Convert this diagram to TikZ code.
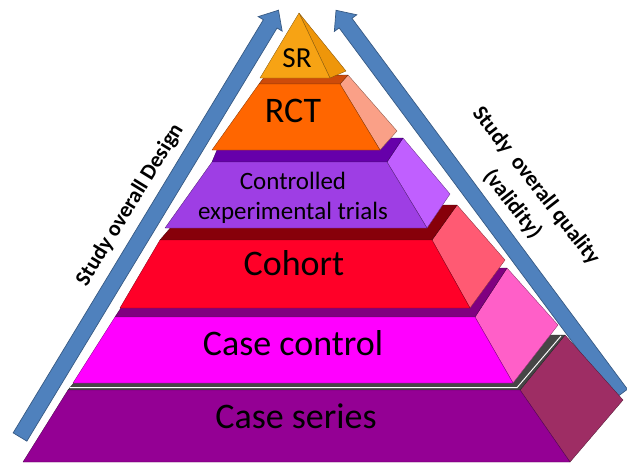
\documentclass[tikz,border=0pt]{standalone}
\usepackage{fontspec}
\setmainfont{Carlito}
\definecolor{arrowblue}{RGB}{79,129,189}
\tikzset{
    face/.style={fill=#1, draw=#1!55!black, line width=0.3pt, line join=round},
    bandarrow/.style={fill=arrowblue, draw=arrowblue!70!black, line width=0.6pt, line join=miter},
    lvlname/.style={font=\fontsize{30.7}{36}\selectfont, text=black, inner sep=0pt},
    axislbl/.style={font=\fontsize{18.8}{25.6}\selectfont\bfseries, text=black, align=center, inner sep=0pt}
}

\begin{document}
\begin{tikzpicture}[x=0.03cm, y=-0.03cm]
            \definecolor{srfront}{RGB}{247,163,20}
            \definecolor{srside}{RGB}{238,150,10}
            \definecolor{rctfront}{RGB}{255,102,0}
            \definecolor{rctband}{RGB}{205,75,10}
            \definecolor{rctside}{RGB}{250,160,135}
            \definecolor{cetfront}{RGB}{158,62,228}
            \definecolor{cetband}{RGB}{102,0,170}
            \definecolor{cetside}{RGB}{192,95,255}
            \definecolor{cohfront}{RGB}{255,0,40}
            \definecolor{cohband}{RGB}{135,0,10}
            \definecolor{cohside}{RGB}{255,90,115}
            \definecolor{ccfront}{RGB}{255,0,255}
            \definecolor{ccband}{RGB}{128,0,128}
            \definecolor{ccside}{RGB}{255,95,200}
            \definecolor{csfront}{RGB}{148,0,148}
            \definecolor{csband}{RGB}{70,70,70}
            \definecolor{csside}{RGB}{158,45,100}
            \useasboundingbox (0,0) rectangle (627,462);
            % the two block arrows along the flanks
            \begin{scope}[shift={(20,437)}, rotate=58.8]
                \filldraw[bandarrow] (0,-8) -- (483,-8) -- (483,-14) -- (499,0) -- (483,14) -- (483,8) -- (0,8) -- cycle;
            \end{scope}
            \begin{scope}[shift={(621,394)}, rotate=126.6]
                \filldraw[bandarrow] (0,-8) -- (462,-8) -- (462,-14) -- (478,0) -- (462,14) -- (462,8) -- (0,8) -- cycle;
            \end{scope}
            \node[axislbl, rotate=58.5] (design) at (130,205) {Study overall Design};
            \node[axislbl, rotate=-52] (quality) at (524,195) {Study\ \ overall quality\\(validity)};
            % case series
            \filldraw[face=csside] (520,390) -- (565,335) -- (623,400) -- (570,462) -- cycle;
            \filldraw[face=csband] (68,390) -- (520,390) -- (565,335) -- (113,335) -- cycle;
            \draw[white, line width=0.8pt] (70,387.6) -- (517,387.6) -- (561,336);
            \filldraw[face=csfront] (68,390) -- (520,390) -- (570,462) -- (23,462) -- cycle;
            % case control
            \filldraw[face=ccside] (475,317) -- (507,268) -- (558,325) -- (513,383) -- cycle;
            \filldraw[face=ccband] (115,317) -- (475,317) -- (507,268) -- (147,268) -- cycle;
            \filldraw[face=ccfront] (115,317) -- (475,317) -- (513,383) -- (73,383) -- cycle;
            % cohort
            \filldraw[face=cohside] (432,240) -- (457,205) -- (505,260) -- (470,308) -- cycle;
            \filldraw[face=cohband] (160,240) -- (432,240) -- (457,205) -- (190,205) -- cycle;
            \filldraw[face=cohfront] (160,240) -- (432,240) -- (470,308) -- (120,308) -- cycle;
            % controlled trials
            \filldraw[face=cetside] (387,162) -- (403,138) -- (450,194) -- (427,228) -- cycle;
            \filldraw[face=cetband] (212,162) -- (387,162) -- (403,138) -- (222,138) -- cycle;
            \filldraw[face=cetfront] (212,162) -- (387,162) -- (427,228) -- (165,228) -- cycle;
            % rct
            \filldraw[face=rctside] (340,84) -- (348,75) -- (397,131) -- (380,150) -- cycle;
            \filldraw[face=rctband] (259,84) -- (340,84) -- (348,75) -- (265,76) -- cycle;
            \filldraw[face=rctfront] (259,84) -- (340,84) -- (380,150) -- (212,150) -- cycle;
            % sr on top
            \filldraw[face=srside] (299,13) -- (346,71) -- (330,78) -- cycle;
            \filldraw[face=srfront] (299,13) -- (330,78) -- (260,78) -- cycle;
            \node[lvlname, font=\fontsize{24.8}{30}\selectfont, anchor=base] (sr) at (297,67) {SR};
            \node[lvlname, anchor=base] (rct) at (293,122) {RCT};
            \node[lvlname, font=\fontsize{21.3}{25.6}\selectfont, align=center] (cet) at (293,198) {Controlled\\experimental trials};
            \node[lvlname, anchor=base] (cohort) at (294,275) {Cohort};
            \node[lvlname, anchor=base] (casectl) at (293,355) {Case control};
            \node[lvlname, anchor=base] (caseser) at (296,428) {Case series};
        \end{tikzpicture}
\end{document}
